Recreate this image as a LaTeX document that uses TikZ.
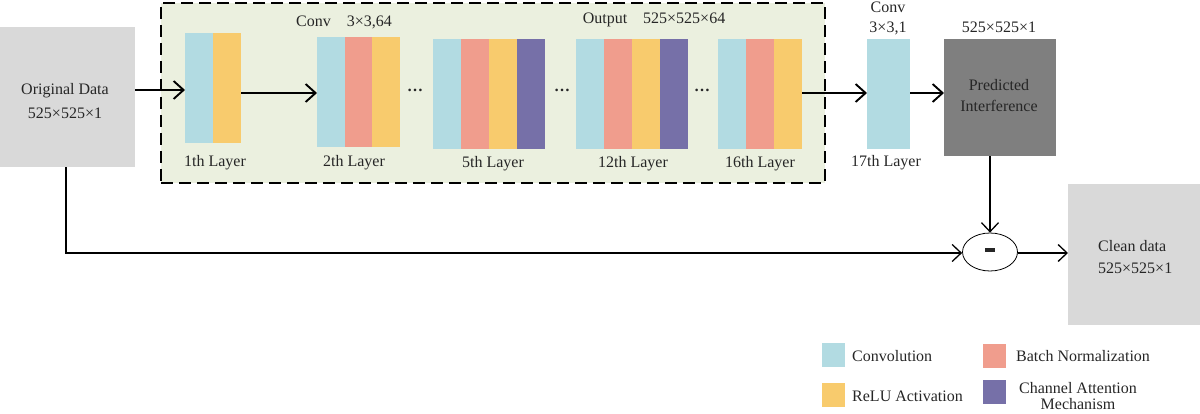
\documentclass[tikz,border=0pt]{standalone}
\usepackage{fontspec}
\setmainfont{Liberation Serif}
\usetikzlibrary{arrows.meta,shapes.geometric}
\definecolor{cy}{HTML}{B2DBE2}
\definecolor{pk}{HTML}{F09D8D}
\definecolor{yl}{HTML}{F8CB6D}
\definecolor{pu}{HTML}{7670A8}
\definecolor{bg}{HTML}{EBF0DF}
\definecolor{lg}{HTML}{D9D9D9}
\definecolor{dg}{HTML}{7F7F7F}
\begin{document}
\begin{tikzpicture}[x=1pt,y=-1pt,
  every node/.style={font=\fontsize{16}{18}\selectfont, text=black!85},
  strip/.style={rectangle, inner sep=0pt, anchor=north west, minimum width=28pt, minimum height=110pt},
  lgd/.style={rectangle, inner sep=0pt, minimum width=23pt, minimum height=24pt},
  arr/.style={line width=1.9pt, -{Straight Barb[length=10pt,width=18pt,line width=1.9pt]}},
  thinarr/.style={line width=1.3pt, -{Straight Barb[length=9pt,width=17pt,line width=1.3pt]}},
  lbl/.style={anchor=center, inner sep=0pt}]
\useasboundingbox (0,0) rectangle (1200,414);
% dashed container
\node[draw, line width=2pt, dash pattern=on 12pt off 6pt, fill=bg, rectangle, inner sep=0pt,
  anchor=north west, minimum width=664pt, minimum height=180pt] (cont) at (160,2) {};
% original data
\node[rectangle, fill=lg, inner sep=0pt, anchor=north west, minimum width=135pt, minimum height=140pt] (orig) at (0,27) {};
\node[lbl] (origt1) at (65,91) {Original Data};
\node[lbl] (origt2) at (65,113) {525×525×1};
% layer 1
\node[strip, fill=cy] (l1a) at (185,33) {};
\node[strip, fill=yl] (l1b) at (213,33) {};
% layer 2
\node[strip, fill=cy] (l2a) at (317,37) {};
\node[strip, fill=pk] (l2b) at (345,37) {};
\node[strip, fill=yl] (l2c) at (372,37) {};
% layer 5
\node[strip, fill=cy] (l5a) at (433,39) {};
\node[strip, fill=pk] (l5b) at (461,39) {};
\node[strip, fill=yl] (l5c) at (489,39) {};
\node[strip, fill=pu] (l5d) at (517,39) {};
% layer 12
\node[strip, fill=cy] (l12a) at (576,39) {};
\node[strip, fill=pk] (l12b) at (604,39) {};
\node[strip, fill=yl] (l12c) at (632,39) {};
\node[strip, fill=pu] (l12d) at (660,39) {};
% layer 16
\node[strip, fill=cy] (l16a) at (718,39) {};
\node[strip, fill=pk] (l16b) at (746,39) {};
\node[strip, fill=yl] (l16c) at (774,39) {};
% layer 17
\node[strip, fill=cy, minimum width=43pt] (l17) at (867,39) {};
% predicted interference
\node[rectangle, fill=dg, inner sep=0pt, anchor=north west, minimum width=112pt, minimum height=117pt] (pi) at (944,39) {};
\node[lbl] (pit1) at (999,85) {Predicted};
\node[lbl] (pit2) at (999,106) {Interference};
\node[lbl] (pitop) at (999,27) {525×525×1};
% dots
\node[lbl] (d1) at (415,90) {\textbf{…}};
\node[lbl] (d2) at (562,90) {\textbf{…}};
\node[lbl] (d3) at (702,90) {\textbf{…}};
% labels
\node[lbl] (t1) at (215,163) {1th Layer};
\node[lbl] (t2) at (354,163) {2th Layer};
\node[lbl] (t5) at (493,164) {5th Layer};
\node[lbl] (t12) at (633,164) {12th Layer};
\node[lbl] (t16) at (760,164) {16th Layer};
\node[lbl] (t17) at (886,163) {17th Layer};
\node[lbl] (conv2) at (344,22) {Conv\quad 3×3,64};
\node[lbl] (outp) at (654,20) {Output\quad 525×525×64};
\node[lbl] (conv17a) at (888,7) {Conv};
\node[lbl] (conv17b) at (888,28) {3×3,1};
% subtraction
\node[ellipse, draw, line width=0.8pt, fill=white, minimum width=55pt, minimum height=38pt, inner sep=0pt] (sub) at (990,252) {\rule[0.28em]{10pt}{3.5pt}};
% clean data
\node[rectangle, fill=lg, inner sep=0pt, anchor=north west, minimum width=132pt, minimum height=141pt] (clean) at (1068,184) {};
\node[lbl, anchor=west] (ct1) at (1098,246) {Clean data};
\node[lbl, anchor=west] (ct2) at (1098,268) {525×525×1};
% connectors
\draw[arr] (orig.east |- 0,90) -- (l1a.west |- 0,90);
\draw[arr] (l1b.east |- 0,93) -- (l2a.west |- 0,93);
\draw[arr] (l16c.east |- 0,93) -- (l17.west |- 0,93);
\draw[arr] (l17.east |- 0,93) -- (pi.west |- 0,93);
\draw[thinarr] (pi.south -| sub.north) -- (sub.north);
\draw[thinarr] (orig.south -| 66,0) -- (66,253) -- (sub.west |- 0,253);
\draw[thinarr] (sub.east |- 0,253) -- (clean.west |- 0,253);
% legend
\node[lgd, fill=cy] (lg1) at (833.5,354.5) {};
\node[lgd, fill=yl] (lg2) at (833.5,395) {};
\node[lgd, fill=pk] (lg3) at (994.5,356) {};
\node[lgd, fill=pu] (lg4) at (994.5,392) {};
\node[lbl, anchor=west] (lt1) at (852,356) {Convolution};
\node[lbl, anchor=west] (lt2) at (852,396) {ReLU Activation};
\node[lbl, anchor=west] (lt3) at (1016,356) {Batch Normalization};
\node[lbl, align=center] (lt4) at (1078,396) {Channel Attention\\[-2pt] Mechanism};
\end{tikzpicture}
\end{document}
